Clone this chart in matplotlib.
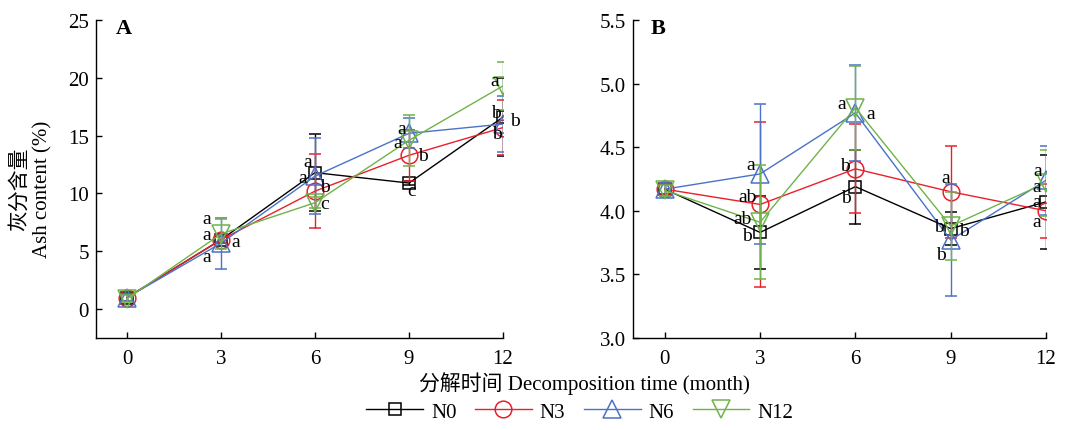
import matplotlib
matplotlib.use("Agg")
import matplotlib.pyplot as plt
from matplotlib.lines import Line2D
import numpy as np

plt.rcParams['font.family'] = ['Liberation Serif', 'Noto Sans CJK SC']

# ---------------- data ----------------
months = [0, 3, 6, 9, 12]
series_names = ["N0", "N3", "N6", "N12"]

ash_N0 = [1.0, 6.0, 11.8, 10.9, 16.6]
ash_N3 = [1.0, 6.0, 10.2, 13.3, 15.7]
ash_N6 = [1.0, 5.7, 11.5, 15.2, 16.0]
ash_N12 = [0.9, 6.5, 9.2, 14.6, 19.3]
ash_err_N0 = [0.3, 0.3, 3.3, 0.2, 3.4]
ash_err_N3 = [0.3, 0.3, 3.2, 2.2, 2.4]
ash_err_N6 = [0.3, 2.2, 3.3, 1.3, 2.4]
ash_err_N12 = [0.3, 1.3, 0.5, 2.2, 2.1]

b_N0 = [4.17, 3.83, 4.19, 3.86, 4.07]
b_N3 = [4.17, 4.05, 4.33, 4.15, 4.00]
b_N6 = [4.17, 4.29, 4.77, 3.77, 4.24]
b_N12 = [4.16, 3.91, 4.81, 3.88, 4.22]
b_err_N0 = [0.04, 0.29, 0.29, 0.13, 0.37]
b_err_N3 = [0.04, 0.65, 0.35, 0.36, 0.21]
b_err_N6 = [0.05, 0.55, 0.38, 0.44, 0.27]
b_err_N12 = [0.04, 0.45, 0.33, 0.27, 0.26]

# significance letters: (series index, time index, letter)
letters_A = [(3, 1, "a"), (1, 1, "a"), (2, 1, "a"), (0, 1, "a"),
             (0, 2, "a"), (2, 2, "a"), (1, 2, "b"), (3, 2, "c"),
             (2, 3, "a"), (3, 3, "a"), (1, 3, "b"), (0, 3, "c"),
             (3, 4, "a"), (0, 4, "b"), (2, 4, "b"), (1, 4, "b")]
letters_B = [(2, 1, "a"), (1, 1, "ab"), (3, 1, "ab"), (0, 1, "b"),
             (3, 2, "a"), (2, 2, "a"), (1, 2, "b"), (0, 2, "b"),
             (1, 3, "a"), (3, 3, "b"), (0, 3, "b"), (2, 3, "b"),
             (2, 4, "a"), (3, 4, "a"), (0, 4, "a"), (1, 4, "a")]

# ---------------- layout / style ----------------
offs_A = [(-14, 15), (-14, 5), (15, 2), (-14, -17),
          (-7, 11), (-12, -1), (10, 5), (10, -1),
          (-7, 5), (-11, -2), (14, 0), (3, -7),
          (-8, 5), (-7, 5), (12, 4), (-6, -6)]
offs_B = [(-9, 9), (-13, 8), (-18, 4), (-13, -3),
          (-14, 4), (15, -1), (-10, 3), (-9, -11),
          (-5, 14), (-12, 0), (13, -2), (-10, -14),
          (-8, 10), (-9, -4), (-9, 0), (-9, -11)]

colors = ["#000000", "#e8202a", "#4a72c8", "#6fb34a"]
markers = ["s", "o", "^", "v"]
msizes = [9, 12, 13, 13]

W, H = 1074, 431
fig = plt.figure(figsize=(W / 100, H / 100), dpi=100)
axA = fig.add_axes([95.7 / W, 1 - 339 / H, (503 - 95.7) / W, 318 / H])
axB = fig.add_axes([633 / W, 1 - 339 / H, (1046 - 633) / W, 318 / H])

dataA = [ash_N0, ash_N3, ash_N6, ash_N12]
errA = [ash_err_N0, ash_err_N3, ash_err_N6, ash_err_N12]
dataB = [b_N0, b_N3, b_N6, b_N12]
errB = [b_err_N0, b_err_N3, b_err_N6, b_err_N12]

for ax, data, err in [(axA, dataA, errA), (axB, dataB, errB)]:
    for i in range(4):
        ax.errorbar(months, data[i], yerr=err[i], color=colors[i], lw=1.0,
                    marker=markers[i], ms=msizes[i], mfc='none',
                    mec=colors[i], mew=1.1, capsize=4, elinewidth=1.0,
                    capthick=1.0, zorder=2 + i)

for ax, data, letters, offs in [(axA, dataA, letters_A, offs_A),
                                 (axB, dataB, letters_B, offs_B)]:
    for (si, ti, txt), (dx, dy) in zip(letters, offs):
        ax.annotate(txt, xy=(months[ti], data[si][ti]), xytext=(dx, dy),
                    textcoords='offset pixels', ha='center', va='center',
                    fontsize=14, zorder=10)

for ax in (axA, axB):
    ax.set_xlim(-1, 12)
    ax.set_xticks(months)
    ax.spines['top'].set_visible(False)
    ax.spines['right'].set_visible(False)
    ax.tick_params(direction='in', labelsize=15, length=4, width=1)
    ax.tick_params(axis='x', pad=8)
    ax.tick_params(axis='y', pad=5)
    for s in ax.spines.values():
        s.set_linewidth(1.0)

axA.set_ylim(-2.5, 25)
axA.set_yticks([0, 5, 10, 15, 20, 25])
axB.set_ylim(3.0, 5.5)
axB.set_yticks([3.0, 3.5, 4.0, 4.5, 5.0, 5.5])
axB.set_yticklabels(["3.0", "3.5", "4.0", "4.5", "5.0", "5.5"])

axA.set_ylabel("灰分含量\nAsh content (%)", fontsize=15, linespacing=1.25)
axA.yaxis.set_label_coords(-0.105, 0.47)

axA.text(0.07, 0.975, "A", transform=axA.transAxes, fontsize=16,
         fontweight='bold', ha='center', va='center')
axB.text(0.06, 0.975, "B", transform=axB.transAxes, fontsize=16,
         fontweight='bold', ha='center', va='center')

fig.text(584 / W, 1 - 384 / H, "分解时间 Decomposition time (month)",
         fontsize=15, ha='center', va='center')

handles = [Line2D([], [], color=colors[i], lw=1.0, marker=markers[i],
                  ms=msizes[i], mfc='none', mec=colors[i], mew=1.1)
           for i in range(4)]
fig.legend(handles=handles, labels=series_names, loc='center',
           bbox_to_anchor=(580 / W, 1 - 413 / H), ncol=4, frameon=False,
           fontsize=15, handlelength=2.7, columnspacing=0.9,
           handletextpad=0.4)

fig.savefig("out.png", dpi=100)
